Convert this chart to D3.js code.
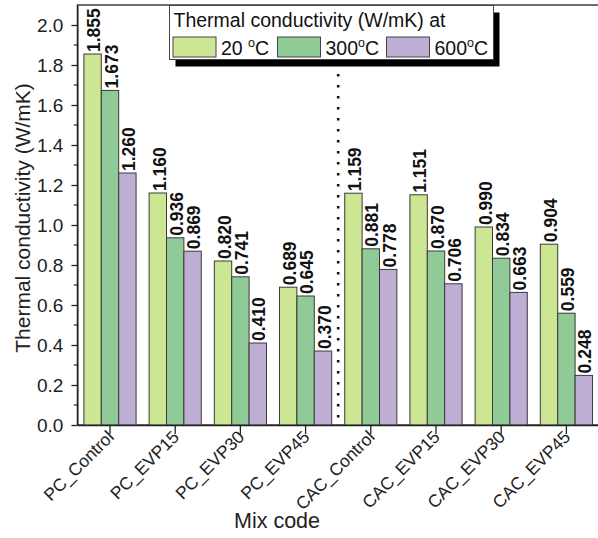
<!DOCTYPE html>
<html>
<head>
<meta charset="utf-8">
<script src="https://cdn.jsdelivr.net/npm/d3@7"></script>
<style>
  body { margin: 0; background: #fff; }
  svg { display: block; font-family: "Liberation Sans", Arial, sans-serif; }
</style>
</head>
<body>
<script>
// data
var mixCodes = ["PC_Control", "PC_EVP15", "PC_EVP30", "PC_EVP45",
                "CAC_Control", "CAC_EVP15", "CAC_EVP30", "CAC_EVP45"];
var k20  = [1.855, 1.160, 0.820, 0.689, 1.159, 1.151, 0.990, 0.904];
var k300 = [1.673, 0.936, 0.741, 0.645, 0.881, 0.870, 0.834, 0.559];
var k600 = [1.260, 0.869, 0.410, 0.370, 0.778, 0.706, 0.663, 0.248];
var seriesLabels = ["20 \u00baC", "300\u00baC", "600\u00baC"];
var yTicks = [0.0, 0.2, 0.4, 0.6, 0.8, 1.0, 1.2, 1.4, 1.6, 1.8, 2.0];

var colors = ["#cde693", "#8fca97", "#bfaed3"];
var series = [k20, k300, k600];

var w = 598, h = 538;
var pL = 77.4, pR = 599, pT = 5, pB = 425; // plot edges

var svg = d3.select("body").append("svg")
    .attr("width", w)
    .attr("height", h);

var xScale = d3.scaleBand()
    .domain(mixCodes)
    .range([pL, pR])
    .paddingInner(0.2)
    .paddingOuter(0.1);

var xSub = d3.scaleBand()
    .domain([0, 1, 2])
    .range([0, xScale.bandwidth()]);

var yScale = d3.scaleLinear()
    .domain([0, 2.1])
    .range([pB, pT]);

// frame
svg.append("rect")
    .attr("x", pL).attr("y", pT)
    .attr("width", pR - pL + 5).attr("height", pB - pT)
    .attr("fill", "none")
    .attr("stroke", "#222")
    .attr("stroke-width", 1.3);

// bars
var rows = [];
mixCodes.forEach(function(m, i){
    series.forEach(function(s, j){
        rows.push({cat: m, s: j, v: s[i]});
    });
});

svg.append("g").selectAll("rect")
    .data(rows)
    .enter()
    .append("rect")
    .attr("x", function(d){ return xScale(d.cat) + xSub(d.s); })
    .attr("y", function(d){ return yScale(d.v); })
    .attr("width", xSub.bandwidth())
    .attr("height", function(d){ return pB - yScale(d.v); })
    .attr("fill", function(d){ return colors[d.s]; })
    .attr("stroke", "#3a3a3a")
    .attr("stroke-width", 1);

// value labels, rotated
svg.append("g").selectAll("text")
    .data(rows)
    .enter()
    .append("text")
    .attr("transform", function(d){
        var x = xScale(d.cat) + xSub(d.s) + xSub.bandwidth() - 1;
        var y = yScale(d.v) - 2;
        return "translate(" + x + "," + y + ") rotate(-90)";
    })
    .attr("font-size", "17.5px")
    .attr("font-weight", "bold")
    .attr("fill", "#111")
    .text(function(d){ return d.v.toFixed(3); });

// dotted divider between PC and CAC groups
var divX = (xScale("PC_EVP45") + xScale.bandwidth() + xScale("CAC_Control")) / 2;
svg.append("line")
    .attr("x1", divX).attr("x2", divX)
    .attr("y1", 74).attr("y2", pB)
    .attr("stroke", "#111")
    .attr("stroke-width", 2.6)
    .attr("stroke-dasharray", "2.5,8.5");

// y axis
var yAxis = d3.axisLeft(yScale)
    .tickValues(yTicks)
    .tickFormat(d3.format(".1f"))
    .tickSize(6)
    .tickPadding(8)
    .tickSizeOuter(0);
var gy = svg.append("g")
    .attr("transform", "translate(" + pL + ",0)")
    .call(yAxis);
gy.selectAll("text").attr("font-size", "19px").attr("fill", "#222").style("font-family", "inherit");
gy.selectAll("line").attr("stroke", "#222").attr("stroke-width", 1.3);
gy.select(".domain").attr("stroke", "#222").attr("stroke-width", 1.3);

// minor y ticks
var minor = yTicks.slice(0, -1).map(function(t){ return +(t + 0.1).toFixed(1); });
svg.append("g").selectAll("line")
    .data(minor)
    .enter()
    .append("line")
    .attr("x1", pL - 3.5).attr("x2", pL)
    .attr("y1", function(d){ return yScale(d); })
    .attr("y2", function(d){ return yScale(d); })
    .attr("stroke", "#222")
    .attr("stroke-width", 1.2);

// x axis
var xAxis = d3.axisBottom(xScale).tickSize(9).tickSizeOuter(0);
var gx = svg.append("g")
    .attr("transform", "translate(0," + pB + ")")
    .call(xAxis);
gx.select(".domain").attr("stroke", "#222").attr("stroke-width", 1.3);
gx.selectAll("line").attr("stroke", "#222").attr("stroke-width", 1.3);
gx.selectAll("text")
    .attr("font-size", "17.5px")
    .attr("fill", "#222")
    .style("font-family", "inherit")
    .attr("text-anchor", "end")
    .attr("x", 0).attr("y", 0).attr("dy", 0)
    .attr("transform", "translate(5,13) rotate(-45)");

// axis titles
svg.append("text")
    .attr("transform", "translate(30,218) rotate(-90)")
    .attr("text-anchor", "middle")
    .attr("font-size", "21px")
    .attr("fill", "#222")
    .text("Thermal conductivity (W/mK)");

svg.append("text")
    .attr("x", 277).attr("y", 528)
    .attr("text-anchor", "middle")
    .attr("font-size", "21.5px")
    .attr("fill", "#222")
    .text("Mix code");

// legend with drop shadow
var lx = 169.5, ly = 5.5, lw = 324, lh = 54;
var legend = svg.append("g");
legend.append("rect")
    .attr("x", lx + 6).attr("y", ly + 7)
    .attr("width", lw).attr("height", lh)
    .attr("fill", "#000");
legend.append("rect")
    .attr("x", lx).attr("y", ly)
    .attr("width", lw).attr("height", lh)
    .attr("fill", "#fff")
    .attr("stroke", "#444")
    .attr("stroke-width", 1);
legend.append("text")
    .attr("x", lx + 4).attr("y", 27)
    .attr("font-size", "19.5px")
    .attr("fill", "#111")
    .text("Thermal conductivity (W/mK) at");

var swX = [173, 277.5, 386.5];
var items = legend.selectAll("g.item")
    .data(seriesLabels)
    .enter()
    .append("g")
    .attr("class", "item")
    .attr("transform", function(d, i){ return "translate(" + swX[i] + ",37)"; });
items.append("rect")
    .attr("width", 43).attr("height", 20)
    .attr("fill", function(d, i){ return colors[i]; })
    .attr("stroke", "#444")
    .attr("stroke-width", 1);
var lt = items.append("text")
    .attr("x", 48).attr("y", 17.5)
    .attr("font-size", "19.5px")
    .attr("fill", "#111");
lt.each(function(d){
    var parts = d.split("\u00ba");
    var t = d3.select(this);
    t.append("tspan").text(parts[0]);
    t.append("tspan").attr("font-size", "12.5px").attr("dy", -8).text("o");
    t.append("tspan").attr("dy", 8).text(parts[1]);
});
</script>
</body>
</html>
